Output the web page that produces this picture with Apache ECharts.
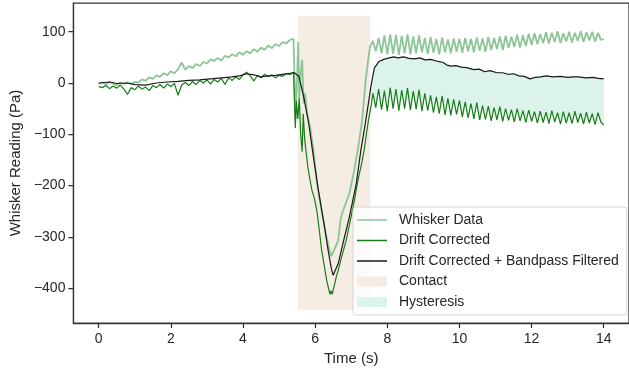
<!DOCTYPE html>
<html>
<head>
<meta charset="utf-8">
<script src="https://cdn.jsdelivr.net/npm/echarts@6/dist/echarts.min.js"></script>
<style>
  html, body { margin: 0; padding: 0; background: #fff; }
  #chart { width: 629px; height: 374px; }
</style>
</head>
<body>
<div id="chart"></div>
<script>
// tick labels
const xTicks = [0, 2, 4, 6, 8, 10, 12, 14];
const yTicks = [-400, -300, -200, -100, 0, 100];

// contact window and hysteresis start (s), contact band extent (Pa)
const contactSpan = [5.52, 7.53];
const contactRange = [-442, 131];
const hysteresisStart = 7.55;

// before contact, shared time base
const preTime = [0, 0.1, 0.2, 0.3, 0.4, 0.5, 0.6, 0.7, 0.8, 0.9,
  1, 1.1, 1.2, 1.3, 1.4, 1.5, 1.6, 1.7, 1.8, 1.9,
  2, 2.1, 2.2, 2.3, 2.4, 2.5, 2.6, 2.7, 2.8, 2.9,
  3, 3.1, 3.2, 3.3, 3.4, 3.5, 3.6, 3.7, 3.8, 3.9,
  4, 4.1, 4.2, 4.3, 4.4, 4.5, 4.6, 4.7, 4.8, 4.9,
  5, 5.1, 5.2, 5.3, 5.4];

// after contact, shared time base
const postTime = [7.60, 7.68, 7.76, 7.84, 7.92, 8.00, 8.08, 8.16, 8.24, 8.32,
  8.40, 8.48, 8.56, 8.64, 8.72, 8.80, 8.88, 8.96, 9.04, 9.12,
  9.20, 9.28, 9.36, 9.44, 9.52, 9.60, 9.68, 9.76, 9.84, 9.92,
  10.00, 10.08, 10.16, 10.24, 10.32, 10.40, 10.48, 10.56, 10.64, 10.72,
  10.80, 10.88, 10.96, 11.04, 11.12, 11.20, 11.28, 11.36, 11.44, 11.52,
  11.60, 11.68, 11.76, 11.84, 11.92, 12.00, 12.08, 12.16, 12.24, 12.32,
  12.40, 12.48, 12.56, 12.64, 12.72, 12.80, 12.88, 12.96, 13.04, 13.12,
  13.20, 13.28, 13.36, 13.44, 13.52, 13.60, 13.68, 13.76, 13.84, 13.92,
  14.00];

// Whisker Data
const whiskerPre = [-2, 1, -3, 2, -1, -4, 1, -2, 1, -2,
  2, 1, 7, 4, 11, 8, 15, 12, 19, 15,
  23, 19, 27, 40, 26, 33, 29, 37, 33, 41,
  38, 46, 43, 49, 44, 53, 50, 56, 52, 60,
  55, 62, 58, 66, 61, 69, 65, 73, 68, 76,
  72, 80, 77, 84, 86];
const whiskerContactTime = [5.42, 5.46, 5.50, 5.53, 5.56, 5.60, 5.64, 5.68, 5.72, 5.78,
  5.86, 5.95, 6.05, 6.18, 6.32, 6.40, 6.45, 6.50, 6.56, 6.64,
  6.70, 6.73, 6.82, 6.95, 7.07, 7.18, 7.30, 7.40, 7.47, 7.52];
const whiskerContact = [86, -70, 10, 80, -30, 20, 45, -40, -20, -60,
  -85, -128, -196, -250, -302, -326, -338, -336, -320, -307,
  -270, -258, -240, -215, -175, -132, -75, 5, 45, 70];
const whiskerPost = [82, 62, 88, 58, 93, 56, 95, 57, 94, 55,
  92, 58, 95, 56, 91, 58, 93, 60, 88, 57,
  90, 59, 86, 56, 89, 60, 85, 58, 87, 61,
  86, 59, 88, 62, 86, 60, 89, 63, 87, 61,
  90, 64, 88, 66, 91, 64, 92, 68, 90, 70,
  94, 69, 93, 72, 96, 74, 97, 76, 95, 78,
  99, 77, 98, 80, 101, 78, 97, 81, 100, 79,
  98, 82, 101, 80, 99, 83, 100, 81, 98, 84,
  86];

// Drift Corrected
const driftPre = [-7, -9, -5, -11, -6, -10, -4, -12, -22, -9,
  -13, -6, -12, -8, -15, -5, -9, -3, -10, -2,
  -7, -1, -24, -4, 1, -5, 3, -3, 5, 0,
  6, -2, 7, 2, 9, -3, 10, 5, 12, 7,
  16, 21, 14, 4, 15, 10, 17, 12, 16, 10,
  15, 13, 18, 16, 21];
const driftContactTime = [5.42, 5.45, 5.48, 5.52, 5.56, 5.60, 5.64, 5.67, 5.71, 5.75,
  5.80, 5.86, 5.91, 5.98, 6.05, 6.12, 6.18, 6.25, 6.32, 6.37,
  6.41, 6.44, 6.47, 6.52, 6.58, 6.64, 6.75, 6.86, 6.97, 7.09,
  7.20, 7.28, 7.36, 7.42, 7.48, 7.55];
const driftContact = [20, -88, -35, -70, -30, -100, -134, -60, -110, -135,
  -165, -190, -209, -225, -250, -290, -326, -355, -385, -400,
  -412, -405, -412, -398, -380, -365, -335, -307, -270, -228,
  -185, -160, -130, -100, -72, -45];
const driftPost = [-20, -48, -12, -52, -15, -55, -9, -50, -12, -54,
  -14, -50, -10, -53, -16, -51, -13, -55, -20, -54,
  -24, -58, -27, -60, -25, -62, -30, -63, -32, -61,
  -34, -66, -37, -68, -40, -70, -38, -72, -44, -71,
  -45, -74, -48, -72, -46, -75, -50, -73, -52, -76,
  -50, -74, -54, -77, -53, -75, -56, -78, -55, -77,
  -57, -79, -54, -76, -58, -80, -56, -78, -58, -79,
  -55, -77, -59, -80, -57, -78, -60, -81, -58, -76,
  -82];

// Drift Corrected + Bandpass Filtered
const filteredTime = [0, 0.3, 0.5, 0.8, 1.0, 1.3, 1.6, 1.9, 2.2, 2.5,
  2.8, 3.1, 3.4, 3.7, 3.9, 4.1, 4.3, 4.5, 4.7, 4.9,
  5.1, 5.3, 5.42, 5.55, 5.68, 5.82, 5.95, 6.09, 6.23, 6.36,
  6.45, 6.5, 6.55, 6.64, 6.77, 6.95, 7.14, 7.27, 7.37, 7.45,
  7.55, 7.64, 7.77, 7.9, 8.0, 8.18, 8.3, 8.45, 8.6, 8.77,
  8.9, 9.05, 9.2, 9.41, 9.55, 9.65, 9.77, 9.9, 10.05, 10.2,
  10.4, 10.55, 10.7, 10.85, 11.04, 11.2, 11.35, 11.5, 11.65, 11.8,
  11.95, 12.1, 12.25, 12.4, 12.6, 12.8, 13.0, 13.15, 13.3, 13.5,
  13.7, 13.85, 14.0];
const filteredValues = [0, 2, -1, 0, -3, -4, 0, 2, 3, 5,
  6, 8, 10, 12, 14, 18, 16, 12, 14, 15,
  17, 19, 20, 13, -26, -78, -143, -209, -268, -326,
  -362, -375, -372, -352, -313, -261, -196, -130, -88, -52,
  -5, 29, 42, 46, 48, 51, 49, 51, 48, 47,
  49, 45, 46, 42, 40, 35, 33, 34, 31, 30,
  26, 27, 22, 24, 20, 20, 17, 18, 14, 13,
  8, 11, 12, 14, 12, 13, 11, 12, 12, 10,
  11, 9, 8];

const zip = (ts, vs) => ts.map((t, i) => [t, vs[i]]);
const whiskerData = zip(preTime, whiskerPre)
  .concat(zip(whiskerContactTime, whiskerContact), zip(postTime, whiskerPost));
const driftData = zip(preTime, driftPre)
  .concat(zip(driftContactTime, driftContact), zip(postTime, driftPost));
const filteredData = zip(filteredTime, filteredValues);

// hysteresis band: between filtered (top) and drift corrected (bottom)
const hystTop = filteredData.filter(p => p[0] >= hysteresisStart);
const hystBottom = driftData.filter(p => p[0] >= hysteresisStart);

const font = 'Liberation Sans, Arial, sans-serif';
const textColor = '#262626';
const spineColor = '#333333';
const fmtMinus = v => (v < 0 ? '\u2212' + Math.abs(v) : String(v));
// thin bar used as a legend line handle
const lineIcon = 'path://M0,0H20V1H0Z';

const chart = echarts.init(document.getElementById('chart'));

chart.setOption({
  animation: false,
  textStyle: { fontFamily: font },
  grid: {
    left: 70,
    top: 3,
    bottom: 51,
    right: -5,
    show: true,
    borderColor: spineColor,
    borderWidth: 1.25,
    backgroundColor: 'transparent'
  },
  xAxis: {
    type: 'value',
    min: -0.7,
    max: 14.7,
    name: 'Time (s)',
    nameLocation: 'middle',
    nameGap: 27,
    nameTextStyle: { fontSize: 15, color: textColor, fontFamily: font },
    axisLine: { show: true, onZero: false, lineStyle: { color: spineColor, width: 1.25 } },
    axisTick: { show: true, length: 5, customValues: xTicks, lineStyle: { color: spineColor, width: 1.25 } },
    axisLabel: { customValues: xTicks, margin: 9, fontSize: 14, color: textColor, fontFamily: font },
    splitLine: { show: false }
  },
  yAxis: {
    type: 'value',
    min: -468,
    max: 156,
    name: 'Whisker Reading (Pa)',
    nameLocation: 'middle',
    nameGap: 46,
    nameTextStyle: { fontSize: 15, color: textColor, fontFamily: font },
    axisLine: { show: true, onZero: false, lineStyle: { color: spineColor, width: 1.25 } },
    axisTick: { show: true, length: 5, customValues: yTicks, lineStyle: { color: spineColor, width: 1.25 } },
    axisLabel: { customValues: yTicks, margin: 8, fontSize: 14, color: textColor, fontFamily: font, formatter: fmtMinus },
    splitLine: { show: false }
  },
  legend: {
    orient: 'vertical',
    left: 353,
    top: 207,
    itemWidth: 30,
    itemHeight: 10,
    itemGap: 6.5,
    padding: [6, 8, 6, 4],
    backgroundColor: 'rgba(255,255,255,0.8)',
    borderColor: '#d6d6d6',
    borderWidth: 1,
    borderRadius: 3,
    textStyle: { fontSize: 14, color: textColor, fontFamily: font, lineHeight: 14, padding: [0, 0, 0, 7] },
    data: [
      { name: 'Whisker Data', icon: lineIcon },
      { name: 'Drift Corrected', icon: lineIcon },
      { name: 'Drift Corrected + Bandpass Filtered', icon: lineIcon },
      { name: 'Contact', icon: 'rect' },
      { name: 'Hysteresis', icon: 'rect' }
    ]
  },
  series: [
    {
      name: 'Contact',
      type: 'custom',
      z: 1,
      itemStyle: { color: '#f5ece3' },
      encode: { x: [0, 1], y: [2, 3] },
      data: [[contactSpan[0], contactSpan[1], contactRange[0], contactRange[1]]],
      renderItem: (params, api) => {
        const p0 = api.coord([api.value(0), api.value(3)]);
        const p1 = api.coord([api.value(1), api.value(2)]);
        return {
          type: 'rect',
          shape: { x: p0[0], y: p0[1], width: p1[0] - p0[0], height: p1[1] - p0[1] },
          style: { fill: '#f5ece3' }
        };
      }
    },
    {
      name: 'Hysteresis',
      type: 'custom',
      z: 1,
      itemStyle: { color: '#dcf3eb' },
      encode: { x: 0, y: 1 },
      data: [[hysteresisStart, 0]],
      renderItem: (params, api) => {
        const pts = hystTop.map(p => api.coord(p))
          .concat(hystBottom.slice().reverse().map(p => api.coord(p)));
        return {
          type: 'polygon',
          shape: { points: pts },
          style: { fill: '#dcf3eb' }
        };
      }
    },
    {
      name: 'Whisker Data',
      type: 'line',
      z: 2,
      symbol: 'none',
      color: '#8cc596',
      lineStyle: { color: '#8cc596', width: 1.8 },
      data: whiskerData
    },
    {
      name: 'Drift Corrected',
      type: 'line',
      z: 3,
      symbol: 'none',
      color: '#177d17',
      lineStyle: { color: '#177d17', width: 1.2 },
      data: driftData
    },
    {
      name: 'Drift Corrected + Bandpass Filtered',
      type: 'line',
      z: 4,
      symbol: 'none',
      color: '#1a1a1a',
      lineStyle: { color: '#1a1a1a', width: 1.2 },
      data: filteredData
    }
  ]
});
</script>
</body>
</html>
